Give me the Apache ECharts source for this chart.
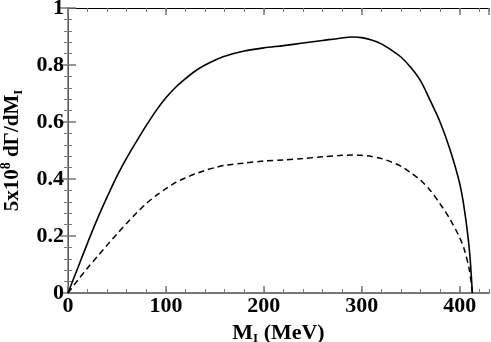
<!DOCTYPE html>
<html lang="en">
<head>
    <meta charset="UTF-8">
    <title>dGamma/dM</title>
    <style>
        html, body { margin: 0; padding: 0; background: #fff; }
        #main { width: 491px; height: 342px; }
    </style>
</head>
<body>
    <div id="main"></div>
    <script src="https://cdn.jsdelivr.net/npm/echarts@6/dist/echarts.min.js"></script>
    <script>
        // M_I (MeV)
        var massI = [0, 10, 20, 30, 40, 50, 60, 70, 80, 90, 100, 110, 120, 130, 140, 150, 160, 180, 200,
            220, 240, 260, 280, 290, 300, 310, 320, 330, 340, 350, 360, 370, 380, 390, 400, 405, 410, 413];
        // 实线
        var solidVals = [0, 0.088, 0.176, 0.26, 0.337, 0.41, 0.474, 0.532, 0.588, 0.64, 0.685, 0.722, 0.752, 0.779, 0.8, 0.817, 0.831, 0.849, 0.86,
            0.868, 0.877, 0.886, 0.895, 0.898, 0.896, 0.888, 0.874, 0.853, 0.828, 0.792, 0.745, 0.675, 0.6, 0.505, 0.385, 0.29, 0.15, 0];
        // 虚线
        var dashedVals = [0, 0.045, 0.088, 0.128, 0.168, 0.207, 0.245, 0.281, 0.314, 0.342, 0.366, 0.388, 0.404, 0.418, 0.43, 0.44, 0.448, 0.456, 0.463,
            0.467, 0.472, 0.478, 0.483, 0.484, 0.483, 0.479, 0.472, 0.46, 0.445, 0.422, 0.396, 0.36, 0.313, 0.26, 0.195, 0.15, 0.08, 0];

        function pairs(xs, ys) {
            return xs.map(function (x, i) { return [x, ys[i]]; });
        }

        var font = 'Liberation Serif';
        var chart = echarts.init(document.getElementById('main'));

        var option = {
            animation: false,
            grid: { left: 68, right: 2, top: 8, bottom: 49, containLabel: false, outerBoundsMode: 'none' },
            xAxis: [{
                type: 'value', position: 'bottom', min: 0, max: 430, interval: 100,
                axisLine: { lineStyle: { color: '#777', width: 2 } },
                axisTick: { inside: true, length: 7, lineStyle: { color: '#777', width: 1.5 } },
                axisLabel: { showMaxLabel: false, margin: 2, color: '#000', fontFamily: font, fontWeight: 'bold', fontSize: 22 },
                splitLine: { show: false },
                name: '{b|M}{s|I}{b| (MeV)}',
                nameLocation: 'middle',
                nameGap: 0,
                nameTextStyle: {
                    rich: {
                        b: { fontFamily: font, fontWeight: 'bold', fontSize: 22, color: '#000' },
                        s: { fontFamily: font, fontWeight: 'bold', fontSize: 13, color: '#000', padding: [12, 0, 0, 0] }
                    }
                }
            }, {
                type: 'value', position: 'bottom', min: 0, max: 430, interval: 20,
                axisLine: { show: false },
                axisTick: { inside: true, length: 4, lineStyle: { color: '#777' } },
                axisLabel: { show: false }, splitLine: { show: false }
            }, {
                type: 'value', position: 'top', min: 0, max: 430, interval: 100,
                axisLine: { lineStyle: { color: '#000', width: 1 } },
                axisTick: { inside: true, length: 7, lineStyle: { color: '#777', width: 1.5 } },
                axisLabel: { show: false }, splitLine: { show: false }
            }, {
                type: 'value', position: 'top', min: 0, max: 430, interval: 20,
                axisLine: { show: false },
                axisTick: { inside: true, length: 4, lineStyle: { color: '#777' } },
                axisLabel: { show: false }, splitLine: { show: false }
            }],
            yAxis: [{
                type: 'value', position: 'left', min: 0, max: 1, interval: 0.2,
                axisLine: { lineStyle: { color: '#000', width: 1 } },
                axisTick: { inside: true, length: 8, lineStyle: { color: '#777', width: 1.5 } },
                minorTick: { show: true, splitNumber: 5, length: 4, lineStyle: { color: '#777' } },
                axisLabel: { margin: 4, color: '#000', fontFamily: font, fontWeight: 'bold', fontSize: 22 },
                splitLine: { show: false },
                name: '{b|5x10}{p|8}{b| dΓ/dM}{s|I}',
                nameLocation: 'middle',
                nameGap: 42,
                nameTextStyle: {
                    rich: {
                        b: { fontFamily: font, fontWeight: 'bold', fontSize: 21, color: '#000' },
                        p: { fontFamily: font, fontWeight: 'bold', fontSize: 14, color: '#000', padding: [0, 0, 12, 0] },
                        s: { fontFamily: font, fontWeight: 'bold', fontSize: 13, color: '#000', padding: [14, 0, 0, 0] }
                    }
                }
            }, {
                type: 'value', position: 'right', min: 0, max: 1, interval: 0.2,
                axisLine: { lineStyle: { color: '#777', width: 1.5 } },
                axisTick: { inside: true, length: 8, lineStyle: { color: '#777', width: 1.5 } },
                minorTick: { show: true, splitNumber: 5, length: 4, lineStyle: { color: '#777' } },
                axisLabel: { show: false }, splitLine: { show: false }
            }],
            series: [{
                type: 'line',
                data: pairs(massI, solidVals),
                showSymbol: false,
                smooth: 0.3,
                lineStyle: { color: '#000', width: 1.6 }
            }, {
                type: 'line',
                data: pairs(massI, dashedVals),
                showSymbol: false,
                smooth: 0.3,
                lineStyle: { color: '#000', width: 1.5, type: [6, 4] }
            }]
        };

        chart.setOption(option);
    </script>
</body>
</html>
